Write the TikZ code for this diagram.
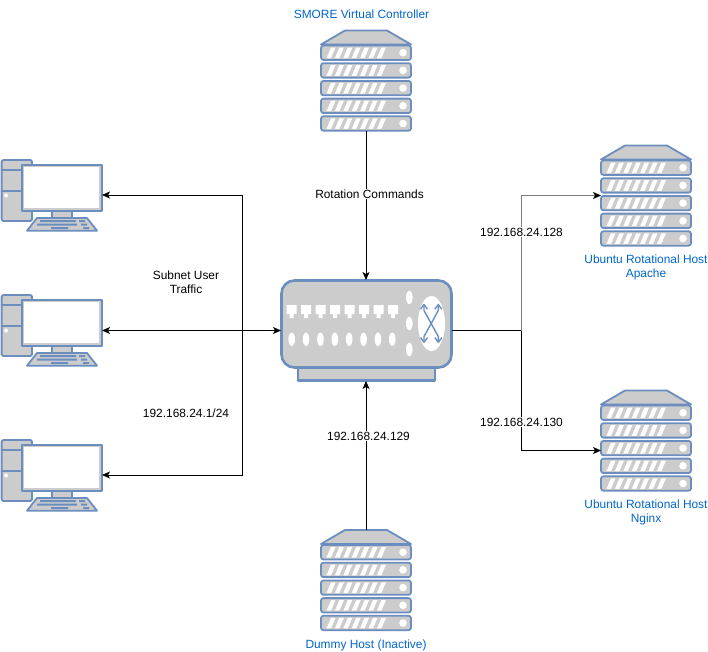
\documentclass[tikz,border=0pt]{standalone}
\usepackage{fontspec}
\setmainfont{Liberation Sans}
\usetikzlibrary{arrows.meta}
\definecolor{edgeblue}{HTML}{6C8EBF}
\definecolor{devgrey}{HTML}{CCCCCC}
\definecolor{labelblue}{HTML}{0066CC}
\definecolor{wiregrey}{HTML}{808080}
\tikzset{
  x=1pt,y=-1pt,
  devline/.style={draw=edgeblue,line width=1.8pt,fill=devgrey,line join=round},
  hole/.style={fill=white,draw=none},
  anchorbox/.style={inner sep=0pt,outer sep=0pt,minimum width=#1,draw=none},
  conn/.style={draw=black,line width=0.9pt,-{Stealth[length=8pt,width=7pt,inset=2pt]}},
  conngrey/.style={draw=wiregrey,line width=0.9pt,-{Stealth[length=8pt,width=7pt,inset=2pt,black]}},
  connboth/.style={draw=black,line width=0.9pt,{Stealth[length=8pt,width=7pt,inset=2pt]}-{Stealth[length=8pt,width=7pt,inset=2pt]}},
  plain/.style={draw=black,line width=0.9pt},
  lab/.style={font=\fontsize{11.9pt}{14pt}\selectfont,align=center,text=black,fill=white,inner sep=1pt},
  bluelab/.style={font=\fontsize{11.9pt}{14pt}\selectfont,align=center,text=labelblue,inner sep=0pt},
  barbs/.style={draw=edgeblue,line width=1.4pt,{Straight Barb[length=4.5pt,width=7pt]}-{Straight Barb[length=4.5pt,width=7pt]}},
  server/.pic={
    \path[devline] (-21,-50) -- (-45,-36) -- (45,-36) -- (21,-50) -- cycle;
    \foreach \t in {-35,-17.3,0.4,18.1,35.8}{
      \path[devline,rounded corners=2.5pt] (-45,\t) rectangle (45,\t+14.4);
      \foreach \k in {0,...,6}{
        \path[hole] (-39.5+\k*8.4,\t+12.6) -- (-35+\k*8.4,\t+12.6) -- (-30.5+\k*8.4,\t+2) -- (-35+\k*8.4,\t+2) -- cycle;
      }
      \path[hole] (37,\t+7.2) circle (3.8);
    }
  },
  workstation/.pic={
    \path[devline,rounded corners=1.5pt] (-49.4,-35) rectangle (-19,26);
    \path[draw=edgeblue,line width=1.8pt] (-49.4,-25) -- (-21,-25) (-49.4,-4) -- (-21,-4);
    \path[hole] (-45,0.5) circle (2);
    \path[devline] (-29.4,-30) rectangle (50.6,15.7);
    \path[fill=white] (-27,-28) rectangle (48,12.5);
    \path[devline] (1,15.7) rectangle (21,23);
    \path[devline] (-14,23) -- (36,23) -- (46,35.7) -- (-24,35.7) -- cycle;
    \path[fill=edgeblue] (-11,25) rectangle (25,27) (28,25) rectangle (34,27)
      (-14,28.6) rectangle (26,30.6) (30,28.6) rectangle (36,30.6)
      (0,32) rectangle (17,34) (32,32) rectangle (38,34);
  },
  switchdev/.pic={
    \path[devline,line width=2.6pt] (-68.5,37) rectangle (68.5,50);
    \path[devline,line width=2.6pt,rounded corners=13pt] (-85,-50) rectangle (85,37);
    \foreach \k in {0,...,7}{
      \path[hole] (-79.8+\k*14.5,-25.5) -- (-69.8+\k*14.5,-25.5) -- (-69.8+\k*14.5,-16.5) -- (-72.8+\k*14.5,-16.5) -- (-72.8+\k*14.5,-12.5) -- (-76.8+\k*14.5,-12.5) -- (-76.8+\k*14.5,-16.5) -- (-79.8+\k*14.5,-16.5) -- cycle;
      \path[hole] (-74.8+\k*14.37,8.8) ellipse (3.3 and 6.7);
    }
    \foreach \y in {-33,-7,19}{\path[hole] (42.8,\y) ellipse (3.3 and 6.7);}
    \path[hole] (65,-7) ellipse (13.5 and 27.5);
    \draw[barbs] (57.5,-27) -- (57.5,-20) -- (71.8,6) -- (71.8,12.8);
    \draw[barbs] (71.8,-27) -- (71.8,-20) -- (57.5,6) -- (57.5,12.8);
  }
}
\begin{document}
\begin{tikzpicture}
\useasboundingbox (0,0) rectangle (708,651);
\path[fill=white] (0,0) rectangle (708,651);

% device anchors
\node[anchorbox=90pt,minimum height=101pt] (ctrl) at (366,80.5) {};
\node[anchorbox=90pt,minimum height=100pt] (dummy) at (366,580) {};
\node[anchorbox=90pt,minimum height=101pt] (apache) at (646,195.5) {};
\node[anchorbox=90pt,minimum height=101pt] (nginx) at (646,440.5) {};
\node[anchorbox=102pt,minimum height=72pt] (pcA) at (51,195) {};
\node[anchorbox=102pt,minimum height=72pt] (pcB) at (51,330) {};
\node[anchorbox=102pt,minimum height=72pt] (pcC) at (51,475) {};
\node[anchorbox=171pt,minimum height=101pt] (switch) at (366.5,330.5) {};
\coordinate (busL) at (242,330.5);
\coordinate (busR) at (521.5,330.5);
\coordinate (nginxIn) at (601,450.5);

\pic at (ctrl) {server};
\pic at (dummy) {server};
\pic at (apache) {server};
\pic at (nginx) {server};
\pic at (pcA) {workstation};
\pic at (pcB) {workstation};
\pic at (pcC) {workstation};
\pic at (switch) {switchdev};

% connectors
\draw[conn] (ctrl.south) -- (ctrl.south |- switch.north);
\draw[conn] (dummy.north) -- (dummy.north |- switch.south);
\draw[connboth] (switch.west) -- (switch.west -| pcB.east);
\draw[conn] (busL) -- (busL |- pcA.east) -- (pcA.east);
\draw[conn] (busL) -- (busL |- pcC.east) -- (pcC.east);
\draw[plain] (switch.east) -- (busR);
\draw[conngrey] (busR) -- (busR |- apache.west) -- (apache.west);
\draw[conn] (busR) -- (busR |- nginxIn) -- (nginxIn);

% labels
\node[lab] (lRot) at (369.5,194) {Rotation Commands};
\node[lab] (lSub) at (186,282) {Subnet User\\Traffic};
\node[lab] (lMask) at (186,413) {192.168.24.1/24};
\node[lab] (l129) at (368.5,436) {192.168.24.129};
\node[lab] (l128) at (521.5,232) {192.168.24.128};
\node[lab] (l130) at (521.5,422) {192.168.24.130};
\node[bluelab] (tCtrl) at (361.5,14) {SMORE Virtual Controller};
\node[bluelab] (tApache) at (646,267) {Ubuntu Rotational Host\\Apache};
\node[bluelab] (tNginx) at (646,512) {Ubuntu Rotational Host\\Nginx};
\node[bluelab] (tDummy) at (366,645) {Dummy Host (Inactive)};
\end{tikzpicture}
\end{document}
